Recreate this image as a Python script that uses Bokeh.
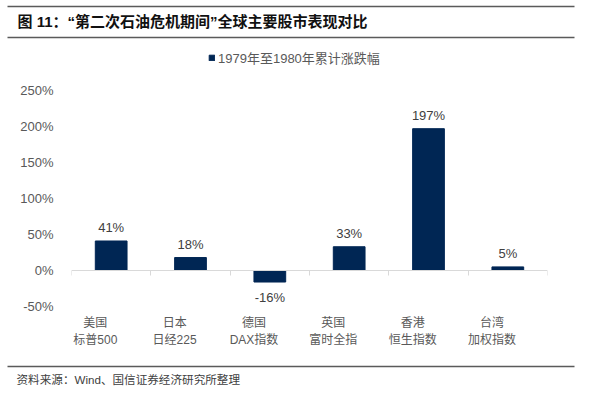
from bokeh.plotting import figure
from bokeh.layouts import column
from bokeh.models import (Range1d, FixedTicker, LinearAxis, Label, Legend, LegendItem)
from bokeh.core.properties import value
from bokeh.embed import file_html
from bokeh.resources import INLINE

# ---- data ----
categories = ["美国\n标普500", "日本\n日经225", "德国\nDAX指数", "英国\n富时全指", "香港\n恒生指数", "台湾\n加权指数"]
returns = [41, 18, -16, 33, 197, 5]
series_name = "1979年至1980年累计涨跌幅"
y_ticks = [-50, 0, 50, 100, 150, 200, 250]
title_text = "图 11：“第二次石油危机期间”全球主要股市表现对比"
source_text = "资料来源：Wind、国信证券经济研究所整理"

FONT = "Liberation Sans, Noto Sans CJK SC"
BAR = "#002654"
GRAY = "#595959"
RULE = "#5a5a5a"
W = 598


def bare(h):
    f = figure(width=W, height=h, output_backend="svg", toolbar_location=None,
               x_range=Range1d(0, W), y_range=Range1d(h, 0),
               x_axis_location=None, y_axis_location=None,
               min_border=0, frame_align=False)
    f.outline_line_color = None
    f.grid.visible = False
    return f


# ---- header ----
head = bare(42)
head.segment(x0=[7, 7], y0=[6, 37], x1=[574, 574], y1=[6, 37], line_width=1.6, line_color=RULE)
head.add_layout(Label(x=17, y=21, text=title_text, text_baseline="middle", text_font=FONT,
                      text_font_size="15px", text_font_style="bold", text_color="#111111"))

# ---- main chart ----
n = len(categories)
xs = [i + 0.5 for i in range(n)]

p = figure(width=W, height=320, output_backend="svg", toolbar_location=None,
           x_range=Range1d(0, n), y_range=Range1d(y_ticks[0], 316.7),
           min_border_left=71, min_border_right=51, min_border_top=0, min_border_bottom=56,
           frame_align=False)
p.outline_line_color = None
p.xgrid.visible = False
p.ygrid.visible = False

bars = p.vbar(x=xs, top=returns, bottom=0, width=0.4, fill_color=BAR, line_color=BAR)

pos = [(x, v) for x, v in zip(xs, returns) if v >= 0]
neg = [(x, v) for x, v in zip(xs, returns) if v < 0]
p.text(x=[a for a, _ in pos], y=[b for _, b in pos], text=[f"{b}%" for _, b in pos],
       text_align="center", text_baseline="bottom", y_offset=-6,
       text_font=value(FONT), text_font_size="13px", text_color="#404040")
p.text(x=[a for a, _ in neg], y=[b for _, b in neg], text=[f"{b}%" for _, b in neg],
       text_align="center", text_baseline="top", y_offset=8,
       text_font=value(FONT), text_font_size="13px", text_color="#404040")

ya = p.yaxis[0]
ya.ticker = FixedTicker(ticks=y_ticks)
ya.major_label_overrides = {t: f"{t}%" for t in y_ticks}
ya.axis_line_color = None
ya.major_tick_line_color = None
ya.minor_tick_line_color = None
ya.major_label_standoff = 12
ya.major_label_text_font = FONT
ya.major_label_text_font_size = "13px"
ya.major_label_text_color = GRAY

bounds = list(range(n + 1))
xa = p.xaxis[0]
xa.fixed_location = 0
xa.ticker = FixedTicker(ticks=bounds)
xa.major_label_overrides = {b: "" for b in bounds}
xa.axis_line_color = "#d9d9d9"
xa.major_tick_line_color = "#d9d9d9"
xa.major_tick_in = 0
xa.major_tick_out = 5
xa.minor_tick_line_color = None
xa.major_label_text_font_size = "1px"
xa.major_label_standoff = 0

label_pos = [round(x - 0.2, 3) for x in xs]
xb = LinearAxis(ticker=FixedTicker(ticks=label_pos),
                major_label_overrides={lp: c for lp, c in zip(label_pos, categories)})
xb.axis_line_color = None
xb.major_tick_line_color = None
xb.minor_tick_line_color = None
xb.major_label_standoff = 3
xb.major_label_text_font = FONT
xb.major_label_text_font_size = "12px"
xb.major_label_text_color = GRAY
xb.major_label_text_line_height = 1.28
p.add_layout(xb, "below")

legend = Legend(items=[LegendItem(label=series_name, renderers=[bars])],
                location=(137, 239), orientation="horizontal",
                glyph_width=7, glyph_height=7, label_standoff=3, label_height=14,
                padding=0, margin=0, spacing=0,
                label_text_font=FONT, label_text_font_size="13px", label_text_color=GRAY,
                border_line_color=None, background_fill_alpha=0)
p.add_layout(legend, "center")

# ---- footer ----
foot = bare(31)
foot.segment(x0=[7], y0=[4], x1=[574], y1=[4], line_width=1.6, line_color=RULE)
foot.add_layout(Label(x=16, y=17, text=source_text, text_baseline="middle", text_font=FONT,
                      text_font_size="11.6px", text_color="#404040"))

layout = column(head, p, foot, spacing=0)
open("out.html", "w").write(file_html(layout, INLINE))
